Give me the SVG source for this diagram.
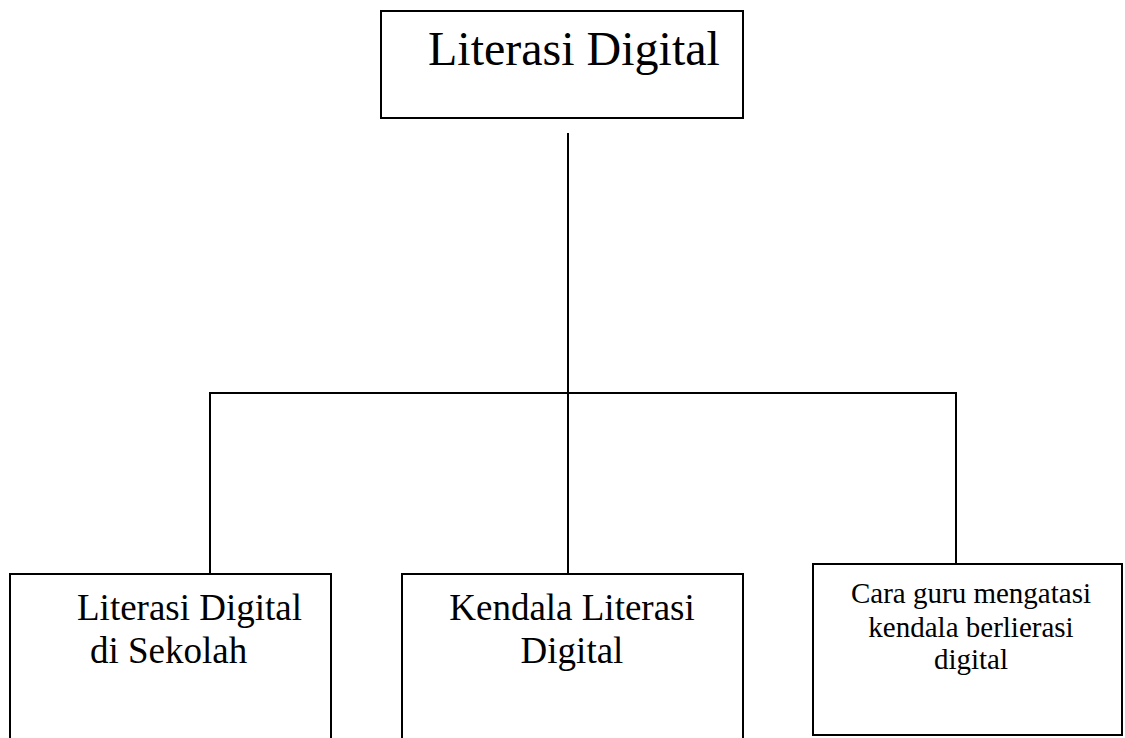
<svg xmlns="http://www.w3.org/2000/svg" width="1125" height="738" viewBox="0 0 1125 738">
<style>
.box{fill:#fff;stroke:#000;stroke-width:2}
.ln{stroke:#000;stroke-width:2;fill:none}
text{font-family:"Liberation Serif","Times New Roman",serif;fill:#000}
</style>
<rect width="1125" height="738" fill="#fff"/>
<g id="connectors">
<line class="ln" x1="568" y1="133" x2="568" y2="574"/>
<polyline class="ln" points="210,574 210,393 956,393 956,564"/>
</g>
<g id="root">
<rect class="box" x="381" y="11" width="362" height="107"/>
<text x="428" y="65" font-size="48">Literasi Digital</text>
</g>
<g id="n1">
<rect class="box" x="10" y="574" width="321" height="200"/>
<text x="77" y="620" font-size="37">Literasi Digital</text>
<text x="90" y="663" font-size="37">di Sekolah</text>
</g>
<g id="n2">
<rect class="box" x="402" y="574" width="341" height="200"/>
<text x="572" y="620" font-size="37" text-anchor="middle">Kendala Literasi</text>
<text x="572" y="663" font-size="37" text-anchor="middle">Digital</text>
</g>
<g id="n3">
<rect class="box" x="813" y="564" width="309" height="171"/>
<text x="971" y="603" font-size="29" text-anchor="middle">Cara guru mengatasi</text>
<text x="971" y="637" font-size="29" text-anchor="middle">kendala berlierasi</text>
<text x="971" y="669" font-size="29" text-anchor="middle">digital</text>
</g>
</svg>
